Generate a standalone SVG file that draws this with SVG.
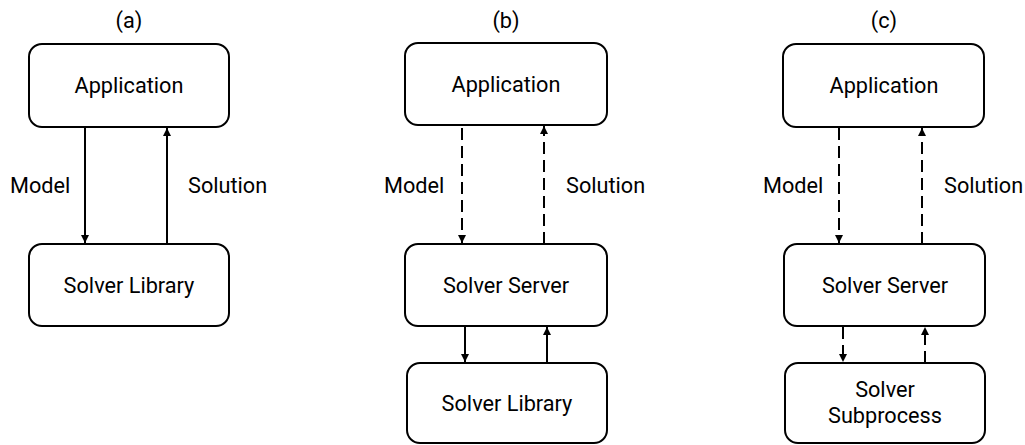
<svg xmlns="http://www.w3.org/2000/svg" width="1025" height="445" viewBox="0 0 1025 445">
<style>
.box{fill:#fff;stroke:#000;stroke-width:2}
.t{font-family:Roboto,"Liberation Sans",sans-serif;font-size:21.7px;fill:#000;text-anchor:middle}
.l{font-family:Roboto,"Liberation Sans",sans-serif;font-size:21.7px;fill:#000}
.c{stroke:#000;stroke-width:2;fill:none;marker-end:url(#ah)}
.d{stroke-dasharray:12 6}
</style>
<defs>
<marker id="ah" viewBox="0 0 10 10" refX="10" refY="5" markerWidth="4" markerHeight="4" orient="auto" markerUnits="strokeWidth">
<path d="M0,0 L10,5 L0,10 z" fill="#000"/>
</marker>
</defs>
<g id="titles">
<text class="t" x="129" y="28">(a)</text>
<text class="t" x="506" y="28">(b)</text>
<text class="t" x="884" y="28">(c)</text>
</g>
<g id="a-app"><rect class="box" x="29" y="44" width="200" height="83" rx="13"/><text class="t" x="129" y="93">Application</text></g>
<g id="a-lib"><rect class="box" x="29" y="244" width="200" height="82" rx="13"/><text class="t" x="129" y="293">Solver Library</text></g>
<g id="b-app"><rect class="box" x="405" y="43" width="202" height="82" rx="13"/><text class="t" x="506" y="92">Application</text></g>
<g id="b-srv"><rect class="box" x="405" y="244" width="202" height="82" rx="13"/><text class="t" x="506" y="293">Solver Server</text></g>
<g id="b-lib"><rect class="box" x="407" y="363" width="200" height="80" rx="13"/><text class="t" x="507" y="411">Solver Library</text></g>
<g id="c-app"><rect class="box" x="783" y="44" width="201" height="83" rx="13"/><text class="t" x="884" y="93">Application</text></g>
<g id="c-srv"><rect class="box" x="784" y="244" width="201" height="82" rx="13"/><text class="t" x="885" y="293">Solver Server</text></g>
<g id="c-sub"><rect class="box" x="785" y="363" width="200" height="80" rx="13"/><text class="t" x="885" y="397">Solver</text><text class="t" x="885" y="423">Subprocess</text></g>
<g id="connectors">
<line class="c" x1="85" y1="127" x2="85" y2="243"/>
<line class="c" x1="167" y1="244" x2="167" y2="128"/>
<line class="c d" x1="462" y1="128" x2="462" y2="243"/>
<line class="c d" x1="544" y1="244" x2="544" y2="126"/>
<line class="c" x1="465" y1="326" x2="465" y2="362"/>
<line class="c" x1="547" y1="363" x2="547" y2="327"/>
<line class="c d" x1="839" y1="128" x2="839" y2="243"/>
<line class="c d" x1="922" y1="244" x2="922" y2="128"/>
<line class="c d" x1="843" y1="327" x2="843" y2="362"/>
<line class="c d" x1="925" y1="363" x2="925" y2="327"/>
</g>
<g id="labels">
<text class="l" x="10" y="193">Model</text>
<text class="l" x="188" y="193">Solution</text>
<text class="l" x="384" y="193">Model</text>
<text class="l" x="566" y="193">Solution</text>
<text class="l" x="763" y="193">Model</text>
<text class="l" x="944" y="193">Solution</text>
</g>
</svg>
